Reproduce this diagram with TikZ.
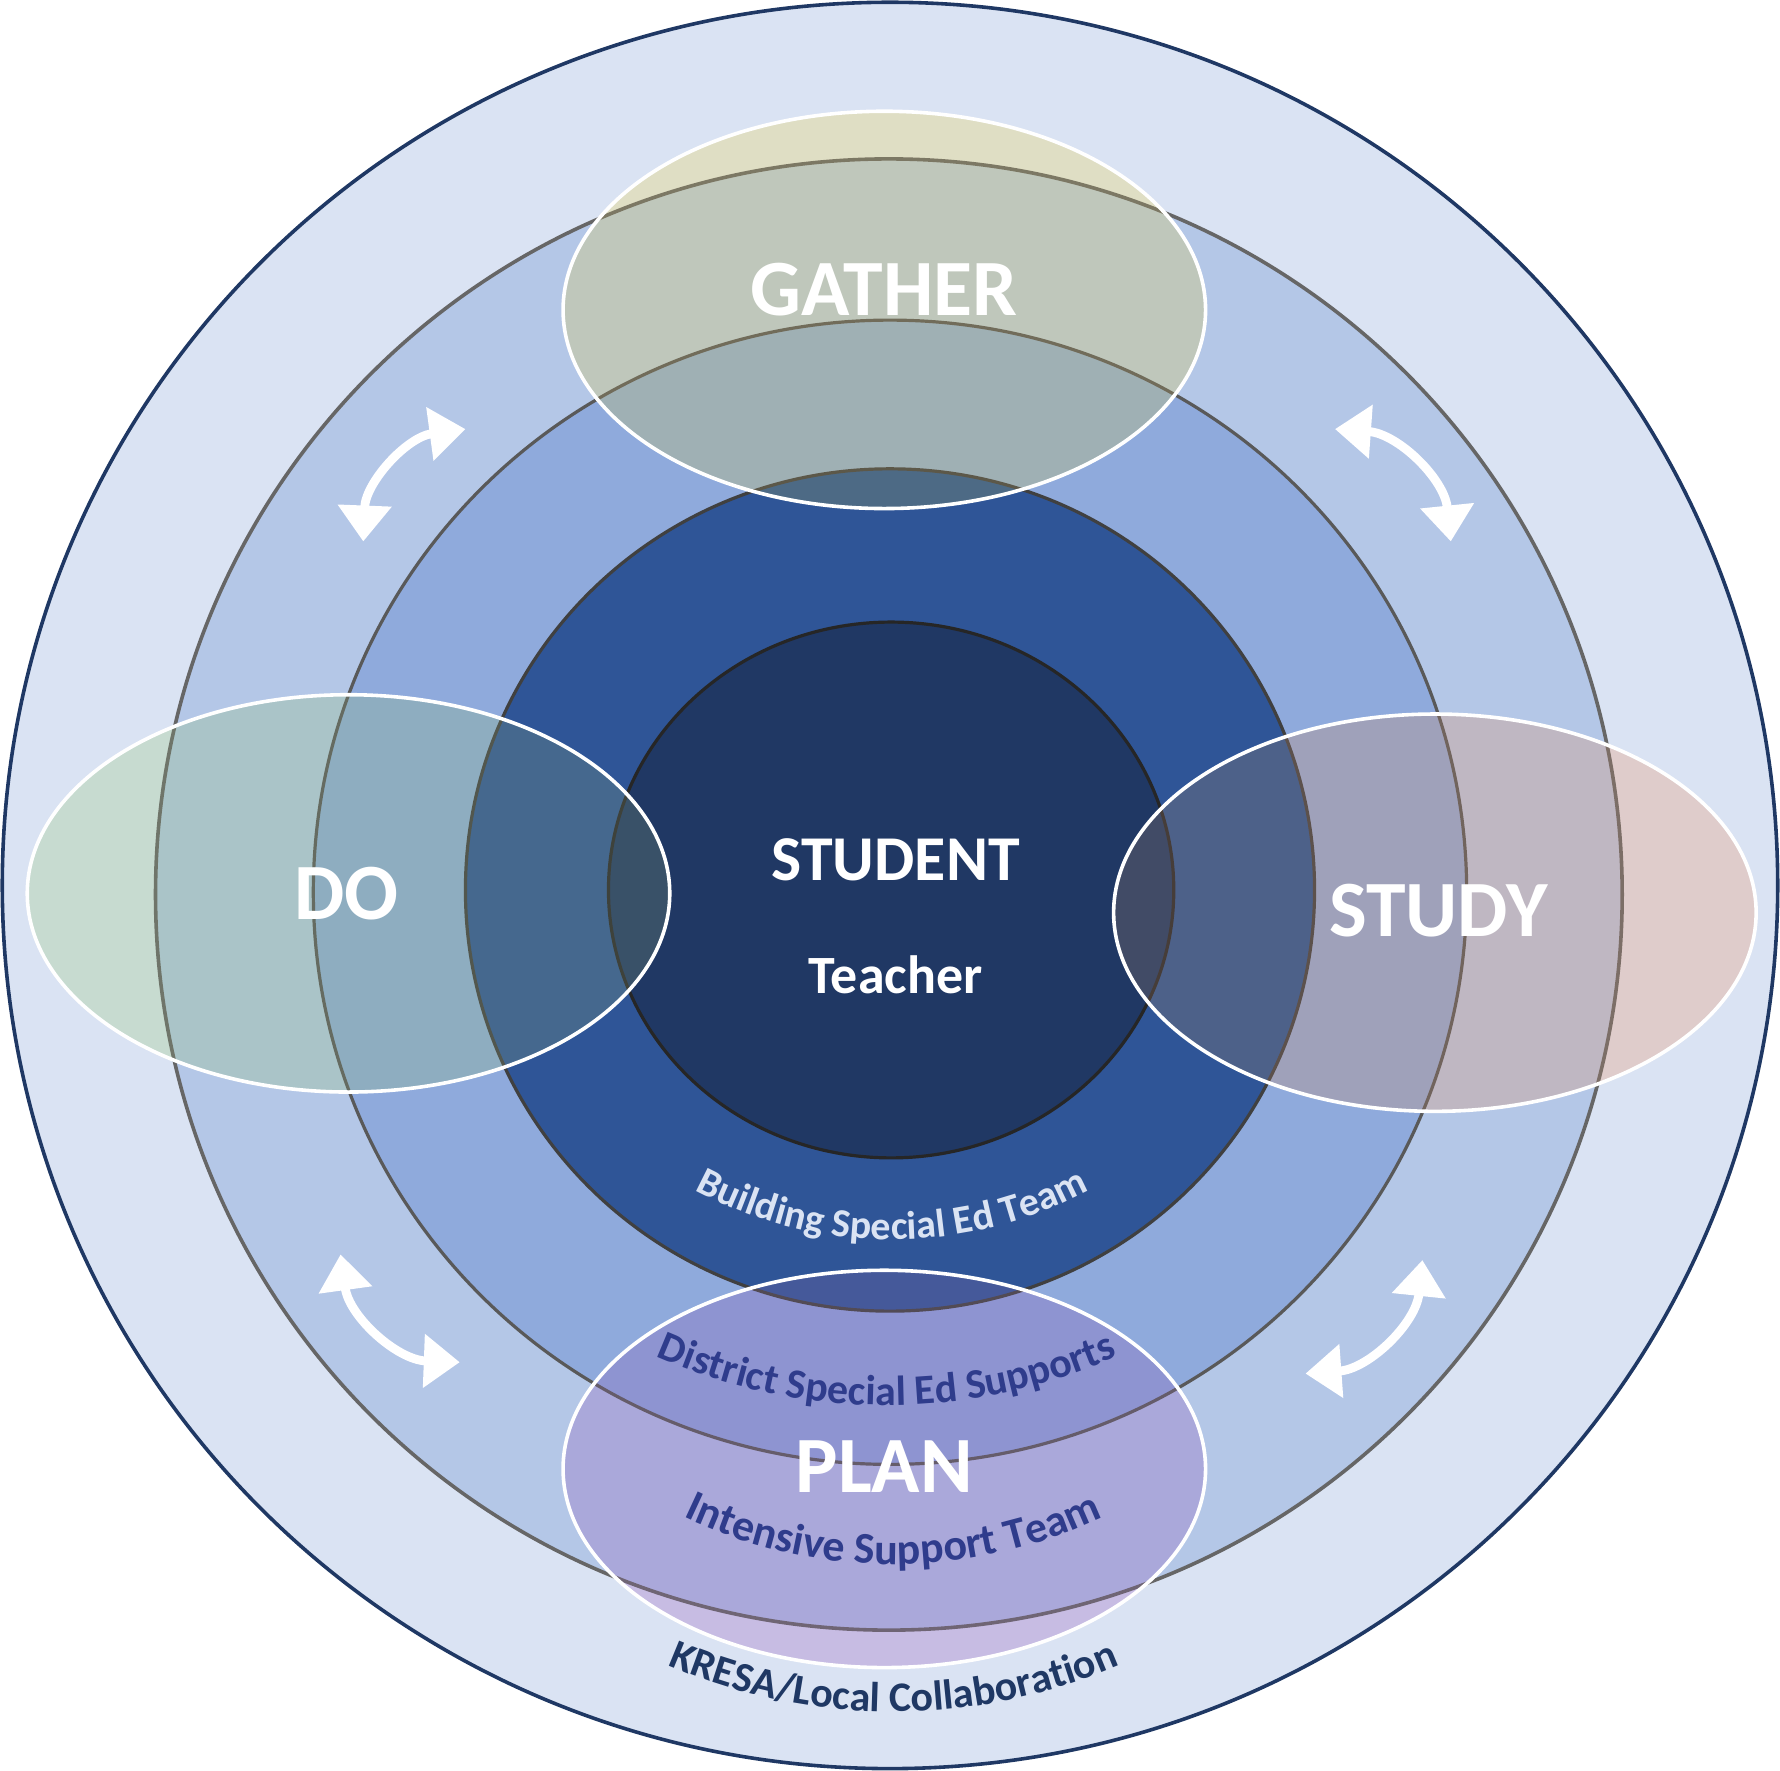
\documentclass[tikz,border=0pt]{standalone}
\usepackage{fontspec}
\setmainfont{Carlito}
\usetikzlibrary{arrows.meta,decorations.text}
\definecolor{ringA}{RGB}{218,227,243}
\definecolor{ringB}{RGB}{180,199,231}
\definecolor{ringC}{RGB}{143,170,220}
\definecolor{ringD}{RGB}{47,85,151}
\definecolor{ringE}{RGB}{32,56,100}
\definecolor{navy}{RGB}{31,56,100}
\definecolor{gatherc}{RGB}{255,246,205}
\definecolor{doc}{RGB}{228,242,218}
\definecolor{studyc}{RGB}{255,226,212}
\definecolor{planc}{RGB}{228,208,238}
\definecolor{labelc}{RGB}{47,60,140}
\begin{document}
\begin{tikzpicture}[x=0.01cm,y=0.01cm,
 phase/.style={blend mode=multiply},
 phasetint/.style={fill opacity=0.15},
 phaseline/.style={draw=white,line width=0.9pt},
 phasetext/.style={text=white,font=\bfseries\fontsize{20}{24}\selectfont},
 cycle/.style={white,line width=2.2pt,{Triangle[length=9pt,width=13pt]}-{Triangle[length=9pt,width=13pt]}},
 arclabel/.style={decorate,decoration={text along path,text align=center,text={#1}}}]
\useasboundingbox (0,0) rectangle (1568,1560);
% rings
\draw[navy,line width=0.9pt,fill=ringA] (784,780) ellipse[x radius=782,y radius=778];
\draw[black!60,line width=0.9pt,fill=ringB] (783,772) ellipse[x radius=646,y radius=648];
\draw[black!65,line width=0.8pt,fill=ringC] (784,774) ellipse[x radius=508,y radius=504];
\draw[black!75,line width=0.8pt,fill=ringD] (784,776) ellipse[x radius=374,y radius=371];
\draw[black!85,line width=0.8pt,fill=ringE] (785,776) ellipse[x radius=249,y radius=236];
% phases
\foreach \c/\x/\y in {gatherc/779/1287,doc/307/773,studyc/1264/756,planc/779/266}{
  \fill[phase,\c] (\x,\y) ellipse[x radius=283,y radius=175];
  \fill[phasetint,\c] (\x,\y) ellipse[x radius=283,y radius=175];
  \draw[phaseline] (\x,\y) ellipse[x radius=283,y radius=175];
}
\node[phasetext] (gather) at (779,1305) {GATHER};
\node[phasetext] (do) at (305,773) {DO};
\node[phasetext] (study) at (1267,758) {STUDY};
\node[phasetext] (plan) at (779,268) {PLAN};
\node[text=white,font=\bfseries\fontsize{16}{19}\selectfont] (student) at (789,803) {STUDENT};
\node[text=white,font=\bfseries\fontsize{13.5}{16}\selectfont] (teacher) at (789,701) {Teacher};
% ring labels
\path[arclabel={|\bfseries\fontsize{10}{12}\selectfont\color{ringA}|Building Special Ed Team}]
  (786,838) ++(230:370) arc[start angle=230,end angle=310,radius=370];
\path[arclabel={|\bfseries\fontsize{10.5}{13}\selectfont\color{labelc}|District Special Ed Supports}]
  (781,822) ++(230:500) arc[start angle=230,end angle=310,radius=500];
\path[arclabel={|\bfseries\fontsize{11}{13}\selectfont\color{labelc}|Intensive Support Team}]
  (787,612) ++(220:430) arc[start angle=220,end angle=320,radius=430];
\path[arclabel={|\bfseries\fontsize{10.5}{13}\selectfont\color{navy}|KRESA/Local Collaboration}]
  (787,552) ++(230:500) arc[start angle=230,end angle=310,radius=500];
% cycle arrows
\coordinate (tl1) at (320,1083); \coordinate (tl2) at (410,1182);
\coordinate (tr1) at (1176,1182); \coordinate (tr2) at (1278,1083);
\coordinate (br1) at (1253,450); \coordinate (br2) at (1150,350);
\coordinate (bl1) at (405,360); \coordinate (bl2) at (300,455);
\draw[cycle] (tl1) to[bend left=40] (tl2);
\draw[cycle] (tr1) to[bend left=40] (tr2);
\draw[cycle] (br1) to[bend left=40] (br2);
\draw[cycle] (bl1) to[bend left=40] (bl2);
\end{tikzpicture}
\end{document}
